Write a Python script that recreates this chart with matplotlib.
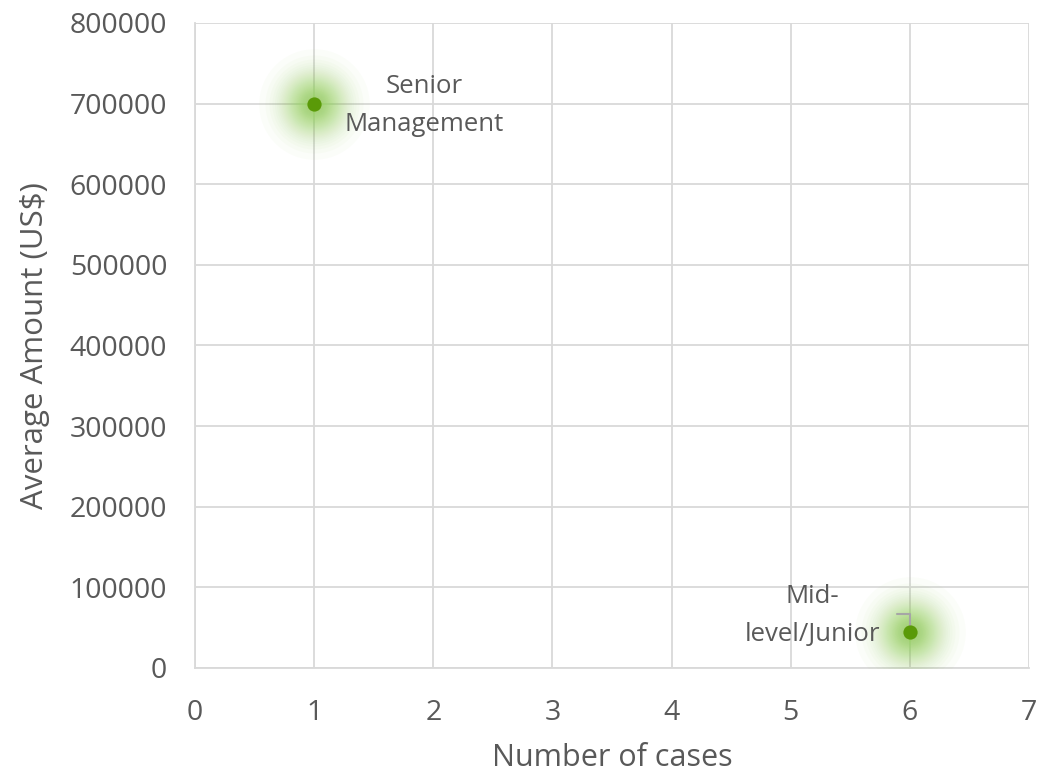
import matplotlib
matplotlib.use("Agg")
import matplotlib.pyplot as plt
import numpy as np

plt.rcParams['font.family'] = ['Open Sans', 'DejaVu Sans']

# Data
categories = ["Senior\nManagement", "Mid-\nlevel/Junior"]
num_cases = [1, 6]
avg_amount = [700000, 44000]
x_ticks = [0, 1, 2, 3, 4, 5, 6, 7]
y_ticks = [0, 100000, 200000, 300000, 400000, 500000, 600000, 700000, 800000]

text_color = "#595959"
grid_color = "#d9d9d9"
point_color = "#5a9a08"
glow_color = "#8fd14f"

fig = plt.figure(figsize=(10.58, 7.74), dpi=100)
ax = fig.add_axes([0.1843, 0.137, 0.7883, 0.8333])

ax.set_xlim(0, 7)
ax.set_ylim(0, 800000)
ax.set_xticks(x_ticks)
ax.set_yticks(y_ticks)
ax.set_xticklabels([str(v) for v in x_ticks])
ax.set_yticklabels([str(v) for v in y_ticks])
ax.grid(True, color=grid_color, linewidth=1.3)
ax.set_axisbelow(True)
for side in ["top", "right"]:
    ax.spines[side].set_visible(False)
for side in ["left", "bottom"]:
    ax.spines[side].set_color(grid_color)
    ax.spines[side].set_linewidth(1.3)
ax.tick_params(axis="y", length=0, labelsize=20.5, colors=text_color, pad=20)
ax.tick_params(axis="x", length=0, labelsize=20.5, colors=text_color, pad=22)

ax.set_xlabel("Number of cases", fontsize=22, color=text_color, labelpad=12)
ax.set_ylabel("Average Amount (US$)", fontsize=22.5, color=text_color, labelpad=14)

# Soft glow around each point: stacked translucent discs giving a
# gaussian-like falloff (radii in pixels)
ring_alpha = 0.03
peak, spread = 0.72, 31.0
n_rings = int(np.log(1 - peak) / np.log(1 - ring_alpha))
k = np.arange(1, n_rings + 1)
opacity = 1 - (1 - ring_alpha) ** k
radii = spread * np.sqrt(np.log(peak / opacity))
for r in radii:
    ax.scatter(num_cases, avg_amount, s=(r * 0.72 * 2) ** 2, color=glow_color,
               alpha=ring_alpha, linewidths=0, zorder=3)

ax.scatter(num_cases, avg_amount, s=105, color=point_color, linewidths=0, zorder=5)

# Data labels
ax.annotate(categories[0], (num_cases[0], avg_amount[0]), xytext=(79, -1.5),
            textcoords="offset points", ha="center", va="center",
            fontsize=18.5, color=text_color, linespacing=1.7, zorder=6)

ax.annotate(categories[1], (num_cases[1], avg_amount[1]), xytext=(-70, 12),
            textcoords="offset points", ha="center", va="center",
            fontsize=18.5, color=text_color, linespacing=1.7, zorder=6)

# Leader line for the lower label
ax.annotate("", (num_cases[1], avg_amount[1]), xytext=(-9, 13),
            textcoords="offset points",
            arrowprops=dict(arrowstyle="-", color="#a6a6a6", lw=1.5,
                            connectionstyle="angle,angleA=0,angleB=90,rad=0",
                            shrinkA=0, shrinkB=3),
            zorder=4)

fig.savefig("out.png", dpi=100)
